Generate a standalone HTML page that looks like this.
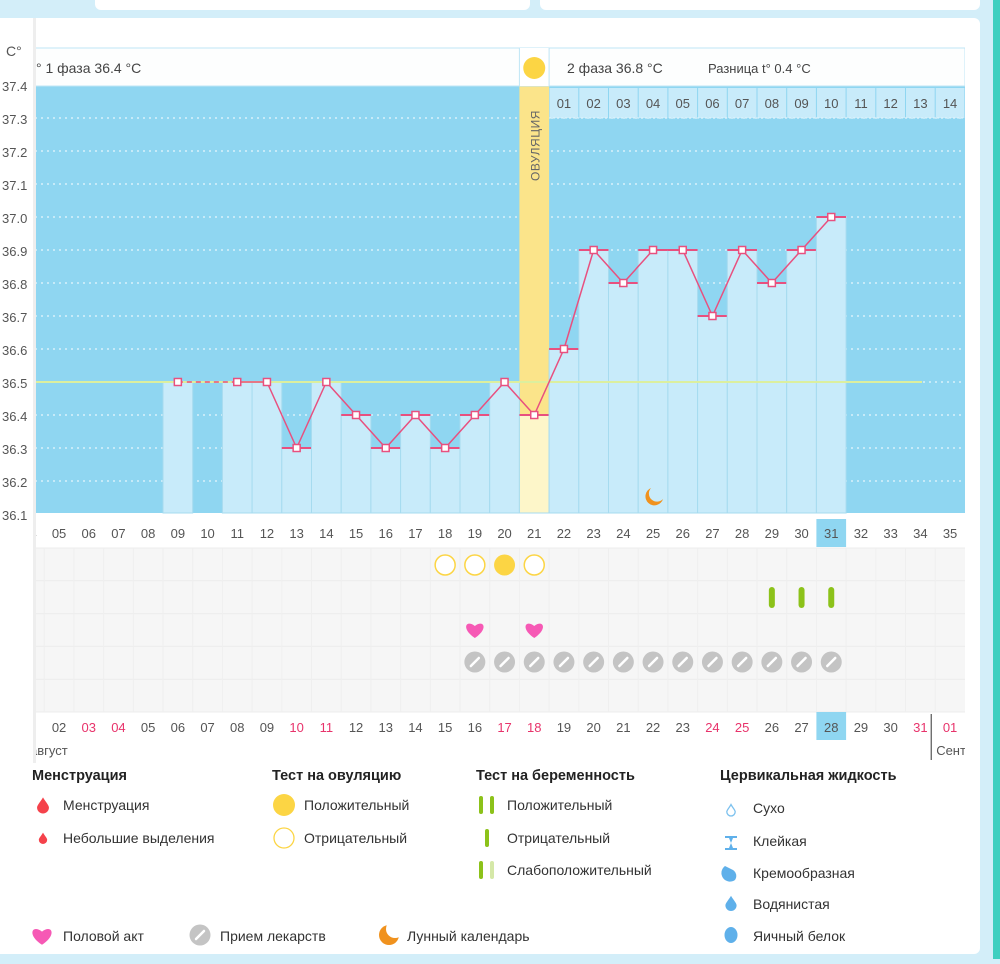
<!DOCTYPE html>
<html><head><meta charset="utf-8">
<style>
body{margin:0;width:1000px;height:959px;overflow:hidden;background:#d3eef9;font-family:"Liberation Sans","DejaVu Sans",sans-serif;}
svg text{font-family:"Liberation Sans","DejaVu Sans",sans-serif;}
</style></head>
<body>
<svg id="chart" width="1000" height="959" xmlns="http://www.w3.org/2000/svg">
<rect x="0" y="0" width="1000" height="959" fill="#d3eef9"/>
<rect x="95" y="-10" width="435" height="20" rx="6" fill="#fff"/>
<rect x="540" y="-10" width="440" height="20" rx="6" fill="#fff"/>
<rect x="993" y="0" width="7" height="959" fill="#3fcfc0"/>
<rect x="-6" y="18" width="986" height="936" rx="6" fill="#fff"/>
<g id="plot"></g>
</svg>
<script>
const days = [4,5,6,7,8,9,10,11,12,13,14,15,16,17,18,19,20,21,22,23,24,25,26,27,28,29,30,31,32,33,34,35];
const tempDays = [9,10,11,12,13,14,15,16,17,18,19,20,21,22,23,24,25,26,27,28,29,30,31];
const temps = [36.5,null,36.5,36.5,36.3,36.5,36.4,36.3,36.4,36.3,36.4,36.5,36.4,36.6,36.9,36.8,36.9,36.9,36.7,36.9,36.8,36.9,37.0];
const yTicks = [37.4,37.3,37.2,37.1,37.0,36.9,36.8,36.7,36.6,36.5,36.4,36.3,36.2,36.1];
const coverline = 36.5;
const ovulationDay = 21;
const phase2Labels = ["01","02","03","04","05","06","07","08","09","10","11","12","13","14"];
const dates = ["01","02","03","04","05","06","07","08","09","10","11","12","13","14","15","16","17","18","19","20","21","22","23","24","25","26","27","28","29","30","31","01"];
const weekendDates = ["03","04","10","11","17","18","24","25","31"];
const ovTestNegDays = [18,19,21];
const ovTestPosDays = [20];
const pregTestDays = [29,30,31];
const heartDays = [19,21];
const pillDays = [19,20,21,22,23,24,25,26,27,28,29,30,31];
const moonDays = [25];
const todayDay = 31;

const NS="http://www.w3.org/2000/svg";
const g=document.getElementById('plot');
const CW=29.7, PL=35, PR=965, PT=86, PB=513;
function colLeft(d){return 44.2+(d-5)*CW;}
function xc(d){return colLeft(d)+CW/2;}
function yv(t){return 118+(37.3-t)*330;}
function mk(tag,attrs,parent){const e=document.createElementNS(NS,tag);for(const k in attrs)e.setAttribute(k,attrs[k]);(parent||g).appendChild(e);return e;}
function txt(x,y,s,attrs,parent){const e=mk('text',Object.assign({x:x,y:y},attrs),parent);e.textContent=s;return e;}

const defs=mk('defs',{});
const cp=mk('clipPath',{id:'pc'},defs);mk('rect',{x:PL,y:0,width:PR-PL,height:959},cp);
const G=mk('g',{'clip-path':'url(#pc)'});

let e=mk('rect',{x:PL,y:PT,width:PR-PL,height:PB-PT,fill:'#8fd6f1'},G);


yTicks.forEach(t=>{if(t<37.35&&t>36.15){const l=mk('line',{x1:PL,x2:PR,y1:yv(t),y2:yv(t),stroke:'#e6f6fc','stroke-width':1.2,'stroke-dasharray':'2 4'},G);

}});
e=mk('rect',{x:colLeft(ovulationDay),y:PT,width:CW,height:PB-PT,fill:'#fbe48a'},G);


phase2Labels.forEach((s,i)=>{const d=ovulationDay+1+i;
const r=mk('rect',{x:colLeft(d)+0.5,y:88,width:CW-1,height:30,fill:'#c8ebfa'},G);


const t=txt(xc(d),108,s,{'text-anchor':'middle','font-size':13,fill:'#555'},G);

});
mk('line',{x1:colLeft(22),x2:PR,y1:118,y2:118,stroke:'#e6f6fc','stroke-dasharray':'2 2'},G);
tempDays.forEach((d,i)=>{const v=temps[i];if(v==null)return;
const b=mk('rect',{x:colLeft(d),y:yv(v),width:CW,height:PB-yv(v),fill:d==ovulationDay?'#fdf6c9':'#c8ebfa',stroke:'#a6dbef','stroke-width':1},G);


const c=mk('line',{x1:colLeft(d),x2:colLeft(d)+CW,y1:yv(v),y2:yv(v),stroke:'#e8507f','stroke-width':2},G);

});
e=mk('line',{x1:PL,x2:922,y1:yv(coverline),y2:yv(coverline),stroke:'#dcef9e','stroke-width':2},G);


e=txt(0,0,'ОВУЛЯЦИЯ',{'font-size':12,fill:'#666',transform:`translate(${xc(ovulationDay)+5},${181}) rotate(-90)`,'letter-spacing':'0.5'},G);


let prev=null;
tempDays.forEach((d,i)=>{const v=temps[i];if(v==null)return;
if(prev){const gap=d-prev[0]>1;const l=mk('line',{x1:xc(prev[0]),y1:yv(prev[1]),x2:xc(d),y2:yv(v),stroke:'#e8507f','stroke-width':1.5,'stroke-dasharray':gap?'5 4':'none'},G);

}
prev=[d,v];});
tempDays.forEach((d,i)=>{const v=temps[i];if(v==null)return;
const p=mk('rect',{x:xc(d)-3.5,y:yv(v)-3.5,width:7,height:7,fill:'#fff',stroke:'#e8507f','stroke-width':1.5},G);

});
moonDays.forEach(d=>{const m=mk('path',{d:`M${xc(d)-2},${488} a9,9 0 1,0 12,11 a7,7 0 1,1 -12,-11z`,fill:'#f0921e'},G);

});

e=mk('rect',{x:PL,y:48,width:PR-PL,height:38,fill:'#fdfefe',stroke:'#bfe5f5'},G);


mk('rect',{x:colLeft(21),y:48,width:CW,height:38,fill:'#fff'},G);
mk('line',{x1:colLeft(21),x2:colLeft(21),y1:48,y2:86,stroke:'#bfe5f5'},G);
mk('line',{x1:colLeft(22),x2:colLeft(22),y1:48,y2:86,stroke:'#bfe5f5'},G);
e=mk('circle',{cx:xc(21),cy:68,r:11,fill:'#fcd544'},G);


e=txt(36,73,'° 1 фаза 36.4 °C',{'font-size':14,fill:'#444'},G);


e=txt(567,73,'2 фаза 36.8 °C',{'font-size':14,fill:'#444'},G);


e=txt(708,73,'Разница t° 0.4 °C',{'font-size':13,fill:'#444'},G);



e=mk('rect',{x:colLeft(todayDay),y:519,width:CW,height:28,fill:'#8fd6f1'},G);


days.forEach(d=>{const t=txt(xc(d),538,String(d).padStart(2,'0'),{'text-anchor':'middle','font-size':13,fill:'#555'},G);

});
e=mk('rect',{x:PL,y:548,width:PR-PL,height:164,fill:'#f6f6f6'},G);


for(let r=0;r<=5;r++)mk('line',{x1:PL,x2:PR,y1:548+r*32.8,y2:548+r*32.8,stroke:'#ececec'},G);
days.forEach(d=>mk('line',{x1:colLeft(d),x2:colLeft(d),y1:548,y2:712,stroke:'#efefef'},G));
ovTestNegDays.forEach(d=>{const c=mk('circle',{cx:xc(d),cy:565,r:10,fill:'#fff',stroke:'#fcd544','stroke-width':1.5},G);

});
ovTestPosDays.forEach(d=>{const c=mk('circle',{cx:xc(d),cy:565,r:10.5,fill:'#fcd544'},G);

});
pregTestDays.forEach(d=>{const c=mk('rect',{x:xc(d)-3,y:587,width:6,height:21,rx:3,fill:'#8cc21a'},G);

});
function heart(cx,cy,parent,s){s=s||1;return mk('path',{d:`M${cx},${cy+8*s} C${cx-14*s},${cy-1*s} ${cx-9*s},${cy-11*s} ${cx},${cy-4*s} C${cx+9*s},${cy-11*s} ${cx+14*s},${cy-1*s} ${cx},${cy+8*s}z`,fill:'#f659b5'},parent);}
heartDays.forEach(d=>{const h=heart(xc(d),630,G);

});
function pill(cx,cy,parent){const gg=mk('g',{},parent);mk('circle',{cx:cx,cy:cy,r:10.5,fill:'#c4c4c4'},gg);mk('line',{x1:cx-4,y1:cy+4,x2:cx+4,y2:cy-4,stroke:'#fff','stroke-width':2.5,'stroke-linecap':'round'},gg);return gg;}
pillDays.forEach(d=>{const p=pill(xc(d),662,G);

});
e=mk('rect',{x:colLeft(todayDay),y:712,width:CW,height:28,fill:'#8fd6f1'},G);


dates.forEach((s,i)=>{const d=days[i];const red=weekendDates.includes(s)||i==dates.length-1;
const t=txt(xc(d),732,s,{'text-anchor':'middle','font-size':13,fill:red?'#e8336b':'#555'},G);

});
mk('line',{x1:colLeft(35)-4,x2:colLeft(35)-4,y1:714,y2:760,stroke:'#333'},G);
e=txt(30,755,'август',{'font-size':13,fill:'#555'},G);


e=txt(colLeft(35)+1,755,'Сентябрь',{'font-size':13,fill:'#555'},G);



e=mk('rect',{x:0,y:18,width:35,height:745,fill:'#fff'});


mk('rect',{x:33,y:18,width:3,height:745,fill:'#eeeeee'});
e=txt(6,56,'C°',{'font-size':14,fill:'#555'});


yTicks.forEach(t=>{const l=txt(2,yv(t)+6,t.toFixed(1),{'font-size':13,fill:'#555'});

});

const L=mk('g',{});


function lt(x,y,s,bold,name){const t=txt(x,y,s,{'font-size':bold?14.5:14,'font-weight':bold?'bold':'normal',fill:bold?'#222':'#333'},L);return t;}
lt(32,780,'Менструация',true,'legend-heading-menstruation');
lt(272,780,'Тест на овуляцию',true,'legend-heading-ovulation-test');
lt(476,780,'Тест на беременность',true,'legend-heading-pregnancy-test');
lt(720,780,'Цервикальная жидкость',true,'legend-heading-cervical-fluid');
function drop(cx,cy,s,fill,stroke){return mk('path',{d:`M${cx},${cy-9*s} C${cx+2*s},${cy-5*s} ${cx+7*s},${cy} ${cx+7*s},${cy+3*s} A${7*s},${7*s} 0 0,1 ${cx-7*s},${cy+3*s} C${cx-7*s},${cy} ${cx-2*s},${cy-5*s} ${cx},${cy-9*s}z`,fill:fill,stroke:stroke||'none','stroke-width':1.3},L);}
drop(43,805,0.85,'#f5424b');lt(63,810,'Менструация',false,'legend-menstruation');
drop(43,838,0.6,'#f5424b');lt(63,843,'Небольшие выделения',false,'legend-spotting');
mk('circle',{cx:284,cy:805,r:11,fill:'#fcd544'},L);lt(304,810,'Положительный',false,'legend-ovulation-positive');
mk('circle',{cx:284,cy:838,r:10,fill:'#fff',stroke:'#fcd544','stroke-width':1.3},L);lt(304,843,'Отрицательный',false,'legend-ovulation-negative');
mk('rect',{x:479,y:796,width:4,height:18,rx:2,fill:'#8cc21a'},L);mk('rect',{x:490,y:796,width:4,height:18,rx:2,fill:'#8cc21a'},L);lt(507,810,'Положительный',false,'legend-pregnancy-positive');
mk('rect',{x:485,y:829,width:4,height:18,rx:2,fill:'#8cc21a'},L);lt(507,843,'Отрицательный',false,'legend-pregnancy-negative');
mk('rect',{x:479,y:861,width:4,height:18,rx:2,fill:'#8cc21a'},L);mk('rect',{x:490,y:861,width:4,height:18,rx:2,fill:'#d5e8a8'},L);lt(507,875,'Слабоположительный',false,'legend-pregnancy-weak');
drop(731,810,0.6,'#fff','#7cc1ee');lt(753,813,'Сухо',false,'legend-dry');
mk('path',{d:'M725,836 h12 v2 h-4 l-2,5 l2,5 h4 v2 h-12 v-2 h4 l2,-5 l-2,-5 h-4z',fill:'#5fb0ea'},L);lt(753,846,'Клейкая',false,'legend-sticky');
mk('path',{d:'M725,866 a7,7 0 0,0 10,14 a7,7 0 0,0 -2,-10z',fill:'#5fb0ea'},L);lt(753,878,'Кремообразная',false,'legend-creamy');
drop(731,903,0.8,'#5fb0ea');lt(753,909,'Водянистая',false,'legend-watery');
mk('ellipse',{cx:731,cy:935,rx:6.5,ry:8,fill:'#5fb0ea'},L);lt(753,941,'Яичный белок',false,'legend-egg-white');
heart(42,936,L,1.1);
lt(63,941,'Половой акт',false,'legend-intercourse');
pill(200,935,L);lt(220,941,'Прием лекарств',false,'legend-medication');
mk('circle',{cx:389,cy:935,r:10,fill:'#f0921e'},L);mk('circle',{cx:395,cy:929,r:9,fill:'#fff'},L);
lt(407,941,'Лунный календарь',false,'legend-lunar-calendar');
</script>
</body></html>
